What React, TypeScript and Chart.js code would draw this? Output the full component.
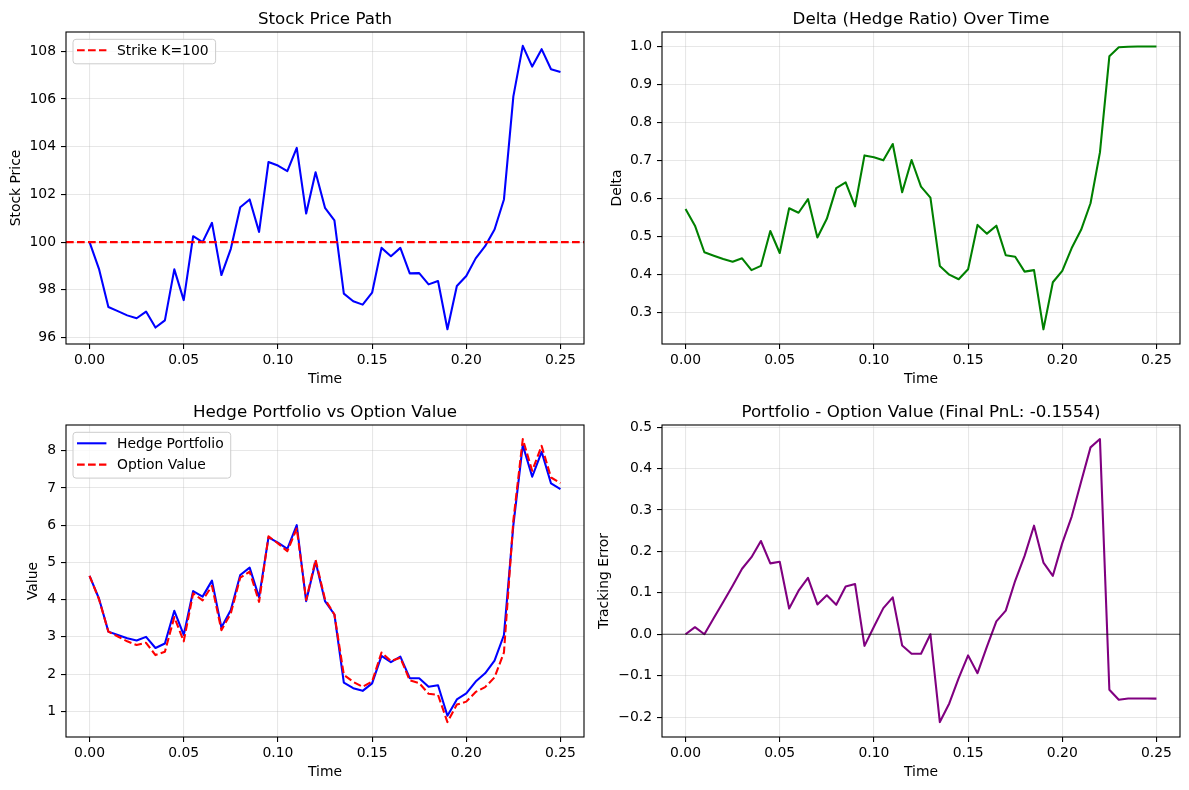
import React, { useEffect, useRef } from "react";
import { Chart, registerables } from "chart.js";

Chart.register(...registerables);

const time = [0, 0.005, 0.01, 0.015, 0.02, 0.025, 0.03, 0.035, 0.04, 0.045, 0.05, 0.055, 0.06, 0.065, 0.07, 0.075, 0.08, 0.085, 0.09, 0.095, 0.1, 0.105, 0.11, 0.115, 0.12, 0.125, 0.13, 0.135, 0.14, 0.145, 0.15, 0.155, 0.16, 0.165, 0.17, 0.175, 0.18, 0.185, 0.19, 0.195, 0.2, 0.205, 0.21, 0.215, 0.22, 0.225, 0.23, 0.235, 0.24, 0.245, 0.25];

const stockPrice = [100.0, 98.88, 97.28, 97.11, 96.93, 96.81, 97.09, 96.42, 96.72, 98.86, 97.57, 100.25, 100.0, 100.81, 98.62, 99.72, 101.46, 101.79, 100.43, 103.36, 103.21, 102.98, 103.95, 101.2, 102.93, 101.44, 100.91, 97.84, 97.52, 97.38, 97.88, 99.76, 99.41, 99.76, 98.69, 98.7, 98.23, 98.37, 96.35, 98.16, 98.58, 99.32, 99.83, 100.53, 101.79, 106.11, 108.23, 107.36, 108.09, 107.25, 107.13];

const strike = 100;

const delta = [0.572, 0.528, 0.458, 0.449, 0.44, 0.433, 0.442, 0.411, 0.422, 0.514, 0.456, 0.574, 0.562, 0.598, 0.497, 0.546, 0.627, 0.642, 0.579, 0.713, 0.708, 0.7, 0.743, 0.616, 0.701, 0.631, 0.602, 0.422, 0.399, 0.387, 0.413, 0.53, 0.507, 0.528, 0.45, 0.446, 0.407, 0.411, 0.255, 0.379, 0.409, 0.469, 0.517, 0.587, 0.721, 0.974, 0.998, 0.999, 1.0, 1.0, 1.0];

const hedgePortfolio = [4.64, 4.03, 3.14, 3.05, 2.96, 2.9, 3.0, 2.7, 2.82, 3.7, 3.05, 4.23, 4.08, 4.51, 3.25, 3.72, 4.66, 4.86, 4.06, 5.67, 5.53, 5.36, 6.0, 3.96, 5.02, 3.96, 3.6, 1.77, 1.62, 1.55, 1.75, 2.49, 2.32, 2.47, 1.89, 1.89, 1.66, 1.7, 0.88, 1.32, 1.48, 1.8, 2.02, 2.36, 3.05, 6.0, 8.15, 7.3, 7.97, 7.12, 6.97];

const optionValue = [4.64, 4.01, 3.14, 3.01, 2.88, 2.78, 2.84, 2.51, 2.6, 3.53, 2.88, 4.17, 3.98, 4.37, 3.18, 3.63, 4.59, 4.75, 3.94, 5.7, 5.51, 5.3, 5.91, 3.99, 5.07, 4.01, 3.6, 1.98, 1.79, 1.66, 1.8, 2.58, 2.35, 2.44, 1.83, 1.76, 1.47, 1.44, 0.71, 1.18, 1.26, 1.52, 1.65, 1.91, 2.58, 6.13, 8.31, 7.46, 8.13, 7.28, 7.13];

const trackingError = [0.0, 0.017, 0.0, 0.039, 0.078, 0.117, 0.158, 0.186, 0.225, 0.171, 0.175, 0.062, 0.105, 0.136, 0.072, 0.094, 0.071, 0.115, 0.121, -0.028, 0.018, 0.063, 0.089, -0.027, -0.047, -0.047, 0.0, -0.212, -0.167, -0.106, -0.051, -0.094, -0.03, 0.031, 0.057, 0.129, 0.189, 0.262, 0.173, 0.141, 0.22, 0.284, 0.368, 0.451, 0.471, -0.134, -0.158, -0.155, -0.155, -0.155, -0.1554];

const xTicks = [0, 0.05, 0.1, 0.15, 0.2, 0.25];
const priceTicks = [96, 98, 100, 102, 104, 106, 108];
const deltaTicks = [0.3, 0.4, 0.5, 0.6, 0.7, 0.8, 0.9, 1.0];
const valueTicks = [1, 2, 3, 4, 5, 6, 7, 8];
const errorTicks = [-0.2, -0.1, 0, 0.1, 0.2, 0.3, 0.4, 0.5];

const X_MIN = -0.0125;
const X_MAX = 0.2625;

const FONT = '"DejaVu Sans", Verdana, sans-serif';
const LW = 2.08;
const DASH = [7.7, 3.3];

const pts = (ys: number[]) => time.map((t, i) => ({ x: t, y: ys[i] }));

const mplPlugin = {
  id: "mpl",
  afterDraw(chart: any, _args: any, opts: any) {
    const ctx = chart.ctx;
    const a = chart.chartArea;
    ctx.save();
    // zero line
    if (opts.zeroLine) {
      const y = chart.scales.y.getPixelForValue(0);
      ctx.strokeStyle = "rgba(0,0,0,0.7)";
      ctx.lineWidth = 1;
      ctx.beginPath();
      ctx.moveTo(a.left, y);
      ctx.lineTo(a.right, y);
      ctx.stroke();
    }
    // frame
    ctx.strokeStyle = "#000";
    ctx.lineWidth = 1.1;
    ctx.strokeRect(a.left, a.top, a.right - a.left, a.bottom - a.top);
    // title
    ctx.fillStyle = "#000";
    ctx.font = `16.7px ${FONT}`;
    ctx.textAlign = "center";
    ctx.textBaseline = "alphabetic";
    ctx.fillText(opts.title, (a.left + a.right) / 2, a.top - 8);
    // x label
    ctx.font = `13.9px ${FONT}`;
    ctx.textBaseline = "middle";
    ctx.fillText(opts.xLabel, (a.left + a.right) / 2, a.bottom + 35);
    // y label
    ctx.save();
    ctx.translate(a.left + opts.yLabelOffset, (a.top + a.bottom) / 2);
    ctx.rotate(-Math.PI / 2);
    ctx.fillText(opts.yLabel, 0, 0);
    ctx.restore();
    // legend
    if (opts.legend && opts.legend.length) {
      ctx.font = `13.9px ${FONT}`;
      const bx = a.left + 7;
      const by = a.top + 7.3;
      let tw = 0;
      for (const it of opts.legend) tw = Math.max(tw, ctx.measureText(it.label).width);
      const textX = a.left + 51;
      const bw = textX + tw + 7 - bx;
      const rowH = 21.3;
      const firstRow = by + 11;
      const bh = firstRow + (opts.legend.length - 1) * rowH + 13.5 - by;
      const r = 3;
      ctx.beginPath();
      ctx.moveTo(bx + r, by);
      ctx.lineTo(bx + bw - r, by);
      ctx.quadraticCurveTo(bx + bw, by, bx + bw, by + r);
      ctx.lineTo(bx + bw, by + bh - r);
      ctx.quadraticCurveTo(bx + bw, by + bh, bx + bw - r, by + bh);
      ctx.lineTo(bx + r, by + bh);
      ctx.quadraticCurveTo(bx, by + bh, bx, by + bh - r);
      ctx.lineTo(bx, by + r);
      ctx.quadraticCurveTo(bx, by, bx + r, by);
      ctx.closePath();
      ctx.fillStyle = "rgba(255,255,255,0.8)";
      ctx.fill();
      ctx.strokeStyle = "#cccccc";
      ctx.lineWidth = 1;
      ctx.stroke();
      opts.legend.forEach((it: any, i: number) => {
        const y = firstRow + i * rowH;
        ctx.strokeStyle = it.color;
        ctx.lineWidth = LW;
        ctx.setLineDash(it.dash ? DASH : []);
        ctx.beginPath();
        ctx.moveTo(a.left + 11, y);
        ctx.lineTo(a.left + 40.4, y);
        ctx.stroke();
        ctx.setLineDash([]);
        ctx.fillStyle = "#000";
        ctx.textAlign = "left";
        ctx.textBaseline = "middle";
        ctx.fillText(it.label, textX, y + 1);
      });
    }
    ctx.restore();
  },
};

type PanelCfg = {
  datasets: any[];
  yMin: number;
  yMax: number;
  yTicks: number[];
  yFmt: (v: number) => string;
  yWidth: number;
  xHeight: number;
  padTop: number;
  padRight: number;
  mpl: any;
};

function fmtMinus(s: string) {
  return s.replace("-", "\u2212");
}

function Panel({ cfg, left, top, width, height }: { cfg: PanelCfg; left: number; top: number; width: number; height: number }) {
  const ref = useRef<HTMLCanvasElement | null>(null);
  useEffect(() => {
    if (!ref.current) return;
    const gridColor = "rgba(176,176,176,0.3)";
    const chart = new Chart(ref.current, {
      type: "line",
      data: { datasets: cfg.datasets },
      plugins: [mplPlugin],
      options: {
        animation: false,
        responsive: false,
        devicePixelRatio: 1,
        layout: { padding: { top: cfg.padTop, right: cfg.padRight, left: 0, bottom: 0 } },
        plugins: {
          legend: { display: false },
          tooltip: { enabled: false },
          title: { display: false },
          mpl: cfg.mpl,
        } as any,
        elements: { point: { radius: 0 }, line: { tension: 0 } },
        scales: {
          x: {
            type: "linear",
            min: X_MIN,
            max: X_MAX,
            afterBuildTicks: (s: any) => {
              s.ticks = xTicks.map((v) => ({ value: v }));
            },
            afterFit: (s: any) => {
              s.height = cfg.xHeight;
            },
            ticks: {
              color: "#000",
              font: { family: FONT, size: 13.9 },
              padding: 3,
              maxRotation: 0,
              autoSkip: false,
              callback: (v: any) => Number(v).toFixed(2),
            },
            grid: { color: gridColor, lineWidth: 1.1, tickColor: "#000", tickLength: 5, tickWidth: 1.1 },
            border: { display: false },
          },
          y: {
            type: "linear",
            min: cfg.yMin,
            max: cfg.yMax,
            afterBuildTicks: (s: any) => {
              s.ticks = cfg.yTicks.map((v) => ({ value: v }));
            },
            afterFit: (s: any) => {
              s.width = cfg.yWidth;
            },
            ticks: {
              color: "#000",
              font: { family: FONT, size: 13.9 },
              padding: 5,
              autoSkip: false,
              callback: (v: any) => cfg.yFmt(Number(v)),
            },
            grid: { color: gridColor, lineWidth: 1.1, tickColor: "#000", tickLength: 5, tickWidth: 1.1 },
            border: { display: false },
          },
        },
      } as any,
    });
    return () => chart.destroy();
  }, [cfg]);
  return (
    <div style={{ position: "absolute", left, top, width, height }}>
      <canvas ref={ref} width={width} height={height} style={{ display: "block", width, height }} />
    </div>
  );
}

const line = (data: any[], color: string, dashed = false) => ({
  data,
  borderColor: color,
  backgroundColor: color,
  borderWidth: LW,
  borderDash: dashed ? DASH : [],
  borderJoinStyle: "round",
  borderCapStyle: "butt",
  pointRadius: 0,
  fill: false,
});

const panel1: PanelCfg = {
  datasets: [
    line([{ x: X_MIN, y: strike }, { x: X_MAX, y: strike }], "#ff0000", true),
    line(pts(stockPrice), "#0000ff"),
  ],
  yMin: 95.73,
  yMax: 108.81,
  yTicks: priceTicks,
  yFmt: (v) => v.toFixed(0),
  yWidth: 66,
  xHeight: 51,
  padTop: 32,
  padRight: 10,
  mpl: {
    title: "Stock Price Path",
    xLabel: "Time",
    yLabel: "Stock Price",
    yLabelOffset: -50,
    legend: [{ label: "Strike K=100", color: "#ff0000", dash: true }],
  },
};

const panel2: PanelCfg = {
  datasets: [line(pts(delta), "#008000")],
  yMin: 0.2164,
  yMax: 1.038,
  yTicks: deltaTicks,
  yFmt: (v) => v.toFixed(1),
  yWidth: 68,
  xHeight: 51,
  padTop: 32,
  padRight: 9,
  mpl: {
    title: "Delta (Hedge Ratio) Over Time",
    xLabel: "Time",
    yLabel: "Delta",
    yLabelOffset: -45,
    legend: [],
  },
};

const panel3: PanelCfg = {
  datasets: [line(pts(optionValue), "#ff0000", true), line(pts(hedgePortfolio), "#0000ff")],
  yMin: 0.31,
  yMax: 8.69,
  yTicks: valueTicks,
  yFmt: (v) => v.toFixed(0),
  yWidth: 66,
  xHeight: 53,
  padTop: 30,
  padRight: 10,
  mpl: {
    title: "Hedge Portfolio vs Option Value",
    xLabel: "Time",
    yLabel: "Value",
    yLabelOffset: -33,
    legend: [
      { label: "Hedge Portfolio", color: "#0000ff", dash: false },
      { label: "Option Value", color: "#ff0000", dash: true },
    ],
  },
};

const panel4: PanelCfg = {
  datasets: [line(pts(trackingError), "#800080")],
  yMin: -0.248,
  yMax: 0.505,
  yTicks: errorTicks,
  yFmt: (v) => fmtMinus(v.toFixed(1)),
  yWidth: 68,
  xHeight: 53,
  padTop: 30,
  padRight: 9,
  mpl: {
    title: "Portfolio - Option Value (Final PnL: -0.1554)",
    xLabel: "Time",
    yLabel: "Tracking Error",
    yLabelOffset: -58,
    legend: [],
    zeroLine: true,
  },
};

export default function App() {
  useEffect(() => {
    document.body.style.margin = "0";
  }, []);
  return (
    <div style={{ position: "relative", width: 1189, height: 790, background: "#fff", overflow: "hidden" }}>
      <Panel cfg={panel1} left={0} top={0} width={594} height={395} />
      <Panel cfg={panel2} left={594} top={0} width={595} height={395} />
      <Panel cfg={panel3} left={0} top={395} width={594} height={395} />
      <Panel cfg={panel4} left={594} top={395} width={595} height={395} />
    </div>
  );
}
